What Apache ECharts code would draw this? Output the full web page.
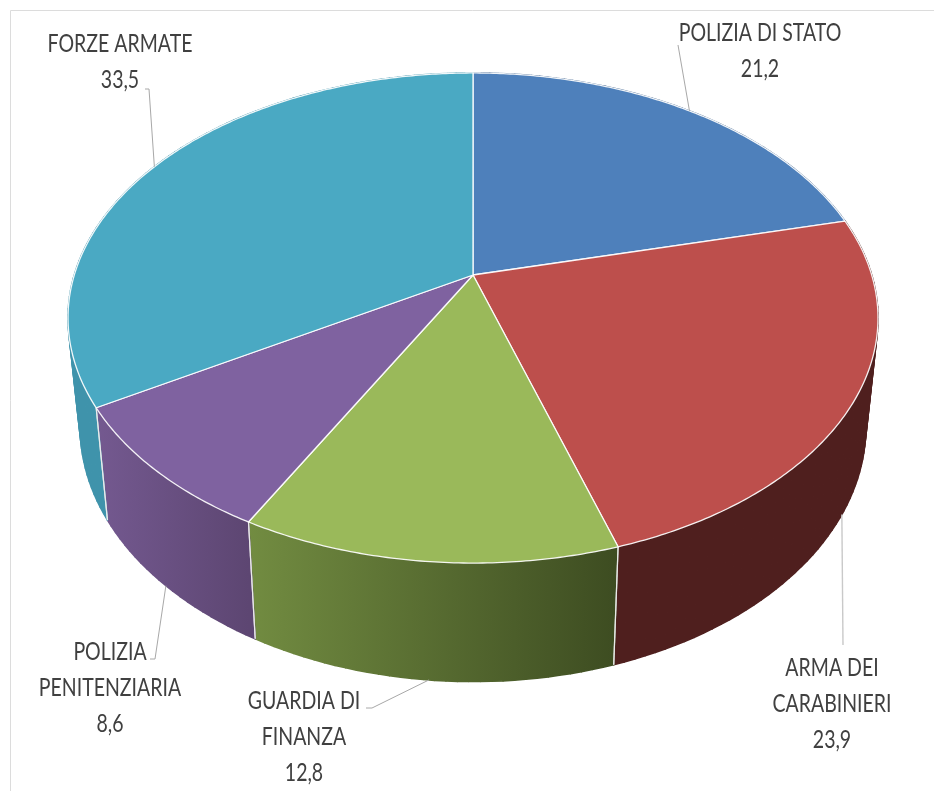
<!DOCTYPE html>
<html><head><meta charset="utf-8">
<style>html,body{margin:0;padding:0;background:#fff}#c{width:934px;height:791px}</style>
<script src="https://cdn.jsdelivr.net/npm/echarts@6/dist/echarts.min.js"></script>
</head><body><div id="c"></div>
<script>
const categories = ['POLIZIA DI STATO','ARMA DEI CARABINIERI','GUARDIA DI FINANZA','POLIZIA PENITENZIARIA','FORZE ARMATE'];
const values = [21.2,23.9,12.8,8.6,33.5];
const topColors = ['#4e80bb','#bd4f4c','#9ab95a','#7f62a0','#4aa9c3'];
const wallLeft  = ['#3a5f8c','#4f1f1e','#728c41','#745990','#3f93ab'];
const wallRight = ['#3a5f8c','#4f1f1e','#3d4c21','#5d4672','#3f93ab'];
const labelLines = [['POLIZIA DI STATO'],['ARMA DEI','CARABINIERI'],['GUARDIA DI','FINANZA'],['POLIZIA','PENITENZIARIA'],['FORZE ARMATE']];

// projection of the tilted disc
const P = {cx:473, cy:275, A:398.7, B:237.5, k:-0.1755, dy:107, sx:0.97, sy:1.04};
const total = values.reduce((a,b)=>a+b,0);
const starts = values.map((_,i)=>values.slice(0,i).reduce((a,b)=>a+b,0)/total*Math.PI*2);
const ends = values.map((_,i)=>values.slice(0,i+1).reduce((a,b)=>a+b,0)/total*Math.PI*2);
function topPt(t){const u=Math.sin(t),v=-Math.cos(t),d=1+P.k*v;return [P.cx+P.A*u/d,P.cy+P.B*v/d];}
function botPt(t){const u=Math.sin(t),v=-Math.cos(t),d=1+P.k*v;return [P.cx+P.sx*P.A*u/d,P.cy+P.dy+P.sy*P.B*v/d];}
function arc(a,b,f,st){const n=Math.max(2,Math.ceil((b-a)/st));const r=[];for(let i=0;i<=n;i++)r.push(f(a+(b-a)*i/n));return r;}

// leader layout per slice: label block (centre x, first line mid y), elbow points
const labelBox = [
  {x:760,y:33,lead:[[678,45]]},
  {x:832,y:668,lead:[[843,645]]},
  {x:304,y:701,lead:[[366,708],[372,708]]},
  {x:110,y:652,lead:[[150,659],[155,659]]},
  {x:120,y:44,lead:[[145,89],[149,89]]}
];
const anchors = values.map((_,i)=>{
  const m=(starts[i]+ends[i])/2;
  return (i===0||i===4)?topPt(m):botPt(m);
});

function wallItem(params){
  const i=params.dataIndex, pts=arc(starts[i],ends[i],t=>t,0.025);
  const children=[];
  const a=topPt(starts[i])[0], b=topPt(ends[i])[0];
  const x0=Math.min(a,b), x1=Math.max(a,b);
  const grad={type:'linear',x:x0,y:0,x2:x1,y2:0,global:true,
    colorStops:[{offset:0,color:wallLeft[i]},{offset:1,color:wallRight[i]}]};
  for(let j=0;j<pts.length-1;j++){
    const s=pts[j],e=pts[j+1];
    children.push({type:'polygon',shape:{points:[topPt(s),topPt(e),botPt(e),botPt(s)]},
      style:{fill:grad,stroke:grad,lineWidth:1.6,lineJoin:'round'}});
  }
  return {type:'group',children};
}
function edgeItem(params){
  const i=params.dataIndex, children=[];
  [starts[i],ends[i]].forEach(t=>{
    if(-Math.cos(t)>0.2){
      const p=topPt(t),q=botPt(t);
      children.push({type:'line',shape:{x1:p[0],y1:p[1],x2:q[0],y2:q[1]},
        style:{stroke:'rgba(235,235,235,0.9)',lineWidth:1.2}});
    }
  });
  return {type:'group',children};
}
function topItem(params){
  const i=params.dataIndex;
  const pts=[[P.cx,P.cy]].concat(arc(starts[i],ends[i],topPt,0.01));
  return {type:'polygon',shape:{points:pts},
    style:{fill:topColors[i],stroke:'rgba(255,255,255,0.92)',lineWidth:1.3,lineJoin:'round'}};
}
function labelItem(params){
  const i=params.dataIndex, box=labelBox[i], children=[];
  const linePts=box.lead.concat([anchors[i]]);
  children.push({type:'polyline',shape:{points:linePts},
    style:{fill:null,stroke:i===1?'#c9c9c9':'#a8a8a8',lineWidth:i===1?1.4:1}});
  const lines=labelLines[i].concat([String(values[i]).replace('.',',')]);
  lines.forEach((s,j)=>{
    children.push({type:'text',x:box.x,y:box.y+j*36,scaleX:0.78,
      style:{text:s,fill:'#404040',align:'center',verticalAlign:'middle',
        font:'25px Lato,"Liberation Sans",sans-serif'}});
  });
  return {type:'group',children};
}
const data=categories.map((c,i)=>({name:c,value:values[i]}));
const chart=echarts.init(document.getElementById('c'),null,{renderer:'canvas'});
chart.setOption({
  animation:false,
  backgroundColor:'#fff',
  graphic:[
    {type:'polyline',z:0,shape:{points:[[934,10.5],[10.5,10.5],[10.5,791]]},style:{fill:null,stroke:'#dcdcdc',lineWidth:1}}
  ],
  series:[
    {type:'custom',coordinateSystem:'none',z:1,silent:true,data,renderItem:wallItem},
    {type:'custom',coordinateSystem:'none',z:2,silent:true,data,renderItem:edgeItem},
    {type:'custom',coordinateSystem:'none',z:3,silent:true,data,renderItem:topItem},
    {type:'custom',coordinateSystem:'none',z:4,silent:true,data,renderItem:labelItem}
  ]
});
</script></body></html>
